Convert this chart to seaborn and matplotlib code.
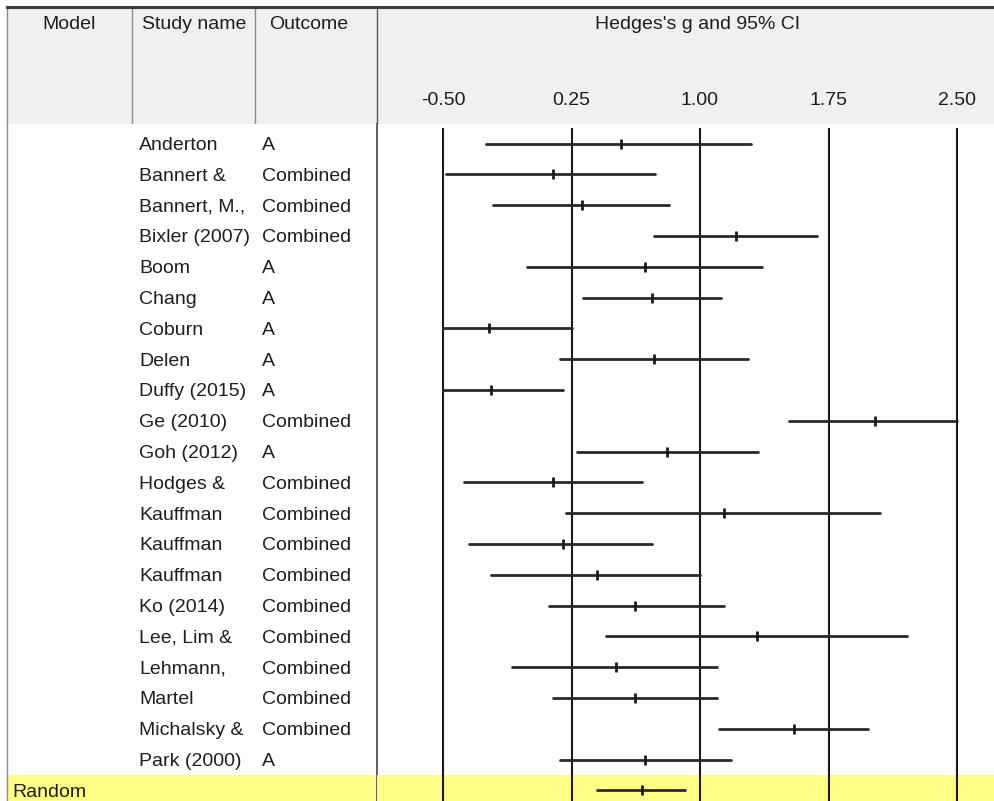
import matplotlib
matplotlib.use("Agg")
import matplotlib.pyplot as plt
import pandas as pd
import seaborn as sns

# ---- study data (Hedges's g with 95% confidence limits) ----
studies = ["Anderton", "Bannert &", "Bannert, M.,", "Bixler (2007)", "Boom", "Chang",
           "Coburn", "Delen", "Duffy (2015)", "Ge (2010)", "Goh (2012)", "Hodges &",
           "Kauffman", "Kauffman", "Kauffman", "Ko (2014)", "Lee, Lim &", "Lehmann,",
           "Martel", "Michalsky &", "Park (2000)"]
outcomes = ["A", "Combined", "Combined", "Combined", "A", "A",
            "A", "A", "A", "Combined", "A", "Combined",
            "Combined", "Combined", "Combined", "Combined", "Combined", "Combined",
            "Combined", "Combined", "A"]
g = [0.54, 0.14, 0.31, 1.21, 0.68, 0.72,
     -0.23, 0.73, -0.22, 2.02, 0.81, 0.14,
     1.14, 0.20, 0.40, 0.62, 1.33, 0.51,
     0.62, 1.55, 0.68]
lower = [-0.25, -0.48, -0.21, 0.73, -0.01, 0.32,
         -0.50, 0.18, -0.50, 1.52, 0.28, -0.38,
         0.22, -0.35, -0.22, 0.12, 0.45, -0.10,
         0.14, 1.11, 0.18]
upper = [1.30, 0.74, 0.82, 1.68, 1.36, 1.12,
         0.25, 1.28, 0.20, 2.50, 1.34, 0.66,
         2.05, 0.72, 1.00, 1.14, 2.21, 1.10,
         1.10, 1.98, 1.18]

summary_model = "Random"
summary_g = 0.66
summary_lower = 0.40
summary_upper = 0.91

x_ticks = [-0.50, 0.25, 1.00, 1.75, 2.50]
header_cols = ["Model", "Study name", "Outcome"]
axis_title = "Hedges's g and 95% CI"

sns.set_theme(style="white")
plt.rcParams["font.family"] = ["Liberation Sans", "DejaVu Sans"]
FS = 14
INK = "#1e1e1e"

W, H = 995, 801
fig = plt.figure(figsize=(W / 100, H / 100), dpi=100)
fig.patch.set_facecolor("white")


def box(x0, y0, x1, y1):
    """Pixel box (top-left origin) -> figure fraction rect."""
    return [x0 / W, 1 - y1 / H, (x1 - x0) / W, (y1 - y0) / H]


# ---- table rows ----
n = len(studies)
df = pd.DataFrame({"study": studies, "outcome": outcomes, "g": g,
                   "lower": lower, "upper": upper, "row": range(n)})
summ = pd.DataFrame({"study": [summary_model], "g": [summary_g],
                     "lower": [summary_lower], "upper": [summary_upper], "row": [n]})
allrows = pd.concat([df, summ], ignore_index=True)

# row geometry: first row centre and row pitch (pixels)
row0, pitch = 143.5, 30.8
body_top, body_bot = 124, 801
ylim = ((body_bot - row0) / pitch, (body_top - row0) / pitch)

# ---- header panel ----
axh = fig.add_axes(box(7, 7, 995, body_top))
axh.set_facecolor("#F0F0F0")
axh.set_xlim(7, 995)
axh.set_ylim(body_top, 7)
axh.set_xticks([])
axh.set_yticks([])
for s in ["right", "bottom"]:
    axh.spines[s].set_visible(False)
axh.spines["top"].set_color("#3c3c3c")
axh.spines["top"].set_linewidth(2.2)
axh.spines["left"].set_color("#8a8a8a")
axh.spines["left"].set_linewidth(1.0)
for xs, c in [(132, "#8c8c8c"), (255, "#8c8c8c"), (377, "#555555")]:
    axh.axvline(xs, color=c, lw=1.0)
for label, xc in zip(header_cols, [69, 194, 309]):
    axh.text(xc, 25, label, ha="center", va="center", fontsize=FS, color=INK)
axh.text(698, 25, axis_title, ha="center", va="center", fontsize=FS, color=INK)

# ---- left table body ----
axl = fig.add_axes(box(7, body_top, 377, body_bot))
axl.set_facecolor("white")
axl.set_xlim(7, 377)
axl.set_ylim(*ylim)
axl.set_xticks([])
axl.set_yticks([])
axl.axhspan(n - 0.5, ylim[0], color="#FFFF88", lw=0)
for s in ["top", "bottom"]:
    axl.spines[s].set_visible(False)
axl.spines["left"].set_color("#8a8a8a")
axl.spines["left"].set_linewidth(1.0)
axl.spines["right"].set_color("#444444")
axl.spines["right"].set_linewidth(1.2)
axl.set_zorder(2)
axl.patch.set_visible(True)
for _, r in df.iterrows():
    axl.text(139, r["row"], r["study"], ha="left", va="center_baseline", fontsize=FS, color=INK)
    axl.text(262, r["row"], r["outcome"], ha="left", va="center_baseline", fontsize=FS, color=INK)
axl.text(12, n, summary_model, ha="left", va="center_baseline", fontsize=FS, color=INK)

# ---- forest panel ----
ax = fig.add_axes(box(377, body_top, 995, body_bot))
ax.patch.set_visible(False)
ax.set_zorder(3)
ax.axhspan(n - 0.5, ylim[0], color="#FFFF88", lw=0, zorder=0)
ax.vlines(x_ticks, ymin=-0.5, ymax=ylim[0], color="#1a1a1a", lw=1.5, zorder=1)

ci = allrows.melt(id_vars=["row"], value_vars=["lower", "upper"], value_name="bound")
sns.lineplot(data=ci, x="bound", y="row", units="row", estimator=None, sort=False,
             color="#2a2a2a", lw=2.0, legend=False, ax=ax, zorder=3)
sns.scatterplot(data=allrows, x="g", y="row", marker="|", s=60, linewidth=2.0,
                color="#1a1a1a", legend=False, ax=ax, zorder=4)

px_per_unit = (957 - 443) / 3.0
ax.set_xlim(x_ticks[0] - (443 - 377) / px_per_unit, x_ticks[0] + (995 - 443) / px_per_unit)
ax.set_ylim(*ylim)
ax.set_xlabel("")
ax.set_ylabel("")
ax.set_yticks([])
ax.xaxis.tick_top()
ax.set_xticks(x_ticks)
ax.set_xticklabels([f"{t:.2f}" for t in x_ticks])
ax.tick_params(axis="x", length=0, pad=11, labelsize=FS, labelcolor=INK)
for s in ax.spines.values():
    s.set_visible(False)

fig.savefig("out.png", dpi=100, facecolor="white")
